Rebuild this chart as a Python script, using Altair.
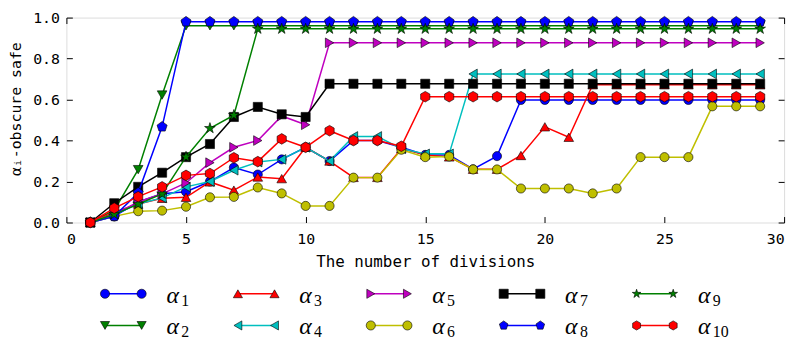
import altair as alt
import pandas as pd

# ---------------- data ----------------
X = list(range(1, 30))

A1 = [0.0, 0.03, 0.10, 0.14, 0.15, 0.20, 0.268, 0.234, 0.308, 0.367, 0.30, 0.40, 0.40, 0.367, 0.33,
      0.33, 0.26, 0.324, 0.598, 0.598, 0.598, 0.598, 0.598, 0.598, 0.598, 0.598, 0.598, 0.598, 0.598]
A2 = [0.0, 0.06, 0.258, 0.622, 0.96, 0.96, 0.96, 0.96, 0.96, 0.96, 0.96, 0.96, 0.96, 0.96, 0.96,
      0.96, 0.96, 0.96, 0.96, 0.96, 0.96, 0.96, 0.96, 0.96, 0.96, 0.96, 0.96, 0.96, 0.96]
A3 = [0.0, 0.05, 0.09, 0.118, 0.123, 0.198, 0.158, 0.222, 0.214, 0.367, 0.30, 0.22, 0.22, 0.36, 0.33,
      0.32, 0.26, 0.26, 0.327, 0.467, 0.416, 0.672, 0.672, 0.672, 0.672, 0.672, 0.672, 0.672, 0.672]
A4 = [0.0, 0.04, 0.09, 0.12, 0.174, 0.20, 0.255, 0.295, 0.308, 0.367, 0.30, 0.42, 0.42, 0.36, 0.335,
      0.335, 0.725, 0.725, 0.725, 0.725, 0.725, 0.725, 0.725, 0.725, 0.725, 0.725, 0.725, 0.725, 0.725]
A5 = [0.0, 0.04, 0.10, 0.14, 0.193, 0.292, 0.367, 0.40, 0.52, 0.477, 0.877, 0.877, 0.877, 0.877, 0.877,
      0.877, 0.877, 0.877, 0.877, 0.877, 0.877, 0.877, 0.877, 0.877, 0.877, 0.877, 0.877, 0.877, 0.877]
A6 = [0.0, 0.03, 0.055, 0.058, 0.077, 0.123, 0.125, 0.171, 0.142, 0.081, 0.081, 0.219, 0.219, 0.355, 0.319,
      0.322, 0.259, 0.259, 0.166, 0.166, 0.166, 0.142, 0.166, 0.319, 0.319, 0.319, 0.567, 0.567, 0.567]
A7 = [0.0, 0.094, 0.174, 0.243, 0.319, 0.383, 0.515, 0.564, 0.528, 0.515, 0.677, 0.677, 0.677, 0.677, 0.677,
      0.677, 0.677, 0.677, 0.677, 0.677, 0.677, 0.677, 0.677, 0.677, 0.677, 0.677, 0.677, 0.677, 0.677]
A8 = [0.0, 0.03, 0.145, 0.467, 0.98, 0.98, 0.98, 0.98, 0.98, 0.98, 0.98, 0.98, 0.98, 0.98, 0.98,
      0.98, 0.98, 0.98, 0.98, 0.98, 0.98, 0.98, 0.98, 0.98, 0.98, 0.98, 0.98, 0.98, 0.98]
A9 = [0.0, 0.04, 0.09, 0.14, 0.32, 0.46, 0.524, 0.945, 0.945, 0.945, 0.945, 0.945, 0.945, 0.945, 0.945,
      0.945, 0.945, 0.945, 0.945, 0.945, 0.945, 0.945, 0.945, 0.945, 0.945, 0.945, 0.945, 0.945, 0.945]
A10 = [0.0, 0.07, 0.126, 0.174, 0.23, 0.239, 0.316, 0.297, 0.408, 0.367, 0.448, 0.40, 0.40, 0.372, 0.614,
       0.614, 0.614, 0.614, 0.614, 0.614, 0.614, 0.614, 0.614, 0.614, 0.614, 0.614, 0.614, 0.614, 0.614]

SERIES = [A1, A2, A3, A4, A5, A6, A7, A8, A9, A10]
NAMES = ["a1", "a2", "a3", "a4", "a5", "a6", "a7", "a8", "a9", "a10"]
SUBS = ["1", "2", "3", "4", "5", "6", "7", "8", "9", "10"]

X_TICKS = [0, 5, 10, 15, 20, 25, 30]
Y_TICKS = [0.0, 0.2, 0.4, 0.6, 0.8, 1.0]

# legend grid (column-major like the reference)
LEG_COL = [0, 0, 1, 1, 2, 2, 3, 3, 4, 4]
LEG_ROW = [0, 1, 0, 1, 0, 1, 0, 1, 0, 1]

# ---------------- styles ----------------
COLORS = ["#0000ff", "#008000", "#ff0000", "#00bfbf", "#bf00bf",
          "#bfbf00", "#000000", "#0000ff", "#008000", "#ff0000"]
PENTAGON = "M0,-1L0.951,-0.309L0.588,0.809L-0.588,0.809L-0.951,-0.309Z"
HEXAGON = "M0,-1L0.866,-0.5L0.866,0.5L0,1L-0.866,0.5L-0.866,-0.5Z"
STAR = ("M0,-1L0.2245,-0.309L0.951,-0.309L0.3633,0.118L0.588,0.809L0,0.382"
        "L-0.588,0.809L-0.3633,0.118L-0.951,-0.309L-0.2245,-0.309Z")
SHAPES = ["circle", "triangle-down", "triangle-up", "triangle-left", "triangle-right",
          "circle", "square", PENTAGON, STAR, HEXAGON]
SIZES = [85, 95, 95, 95, 95, 85, 85, 115, 130, 115]

FONT = "DejaVu Sans Mono"
MATH = "Liberation Serif"

# ---------------- tables ----------------
rows = []
for name, ys in zip(NAMES, SERIES):
    for x, y in zip(X, ys):
        rows.append({"s": name, "x": x, "y": y})
df = pd.DataFrame(rows)

leg_rows = []
for i, name in enumerate(NAMES):
    for off in (0.0, 0.2756):
        leg_rows.append({"s": name, "u": LEG_COL[i] + off, "v": -LEG_ROW[i]})
leg_df = pd.DataFrame(leg_rows)
lab_df = pd.DataFrame({"s": NAMES, "sub": SUBS,
                       "u": [c + 0.4618 for c in LEG_COL],
                       "v": [-r for r in LEG_ROW]})

# ---------------- main plot ----------------
xs = alt.Scale(domain=[0, 30], nice=False, zero=False)
ysc = alt.Scale(domain=[0, 1], nice=False, zero=False)

x_axis = alt.Axis(values=X_TICKS, format="d", offset=-6, tickSize=6, tickColor="black",
                  domain=False, grid=False, labelFont=FONT, labelFontSize=15, labelColor="black",
                  labelPadding=9, title="The number of divisions", titleFont=FONT,
                  titleFontSize=16, titleFontWeight="normal", titleColor="black", titlePadding=7)
y_axis = alt.Axis(values=Y_TICKS, format=".1f", offset=-6, tickSize=6, tickColor="black",
                  domain=False, grid=False, labelFont=FONT, labelFontSize=15, labelColor="black",
                  labelPadding=7, title="αᵢ-obscure safe", titleFont=FONT,
                  titleFontSize=15, titleFontWeight="normal", titleColor="black", titlePadding=9,
                  titleY=92)

layers = []
for i, name in enumerate(NAMES):
    base = alt.Chart(df).transform_filter(alt.datum.s == name)
    enc = dict(x=alt.X("x:Q", scale=xs, axis=x_axis), y=alt.Y("y:Q", scale=ysc, axis=y_axis))
    layers.append(base.mark_line(color=COLORS[i], strokeWidth=1.5).encode(**enc))
    layers.append(base.mark_point(shape=SHAPES[i], filled=True, fill=COLORS[i], stroke="black",
                                  strokeWidth=0.6, size=SIZES[i], opacity=1).encode(**enc))
series_group = alt.layer(*layers)

frame = alt.Chart(df).mark_point(opacity=0).encode(
    x=alt.X("x:Q", scale=xs, axis=alt.Axis(orient="top", values=X_TICKS, labels=False, title=None,
                                           offset=-6, tickSize=6, tickColor="black",
                                           domain=False, grid=False)),
    y=alt.Y("y:Q", scale=ysc, axis=alt.Axis(orient="right", values=Y_TICKS, labels=False, title=None,
                                            offset=-6, tickSize=6, tickColor="black",
                                            domain=False, grid=False)),
)
main = alt.layer(series_group, frame).resolve_axis(x="independent", y="independent")

# ---------------- legend (drawn below the plot) ----------------
lx = alt.Scale(domain=[-0.2905, 5.110], nice=False, zero=False)
ly = alt.Scale(domain=[2.25, 8.719], nice=False, zero=False)
cscale = alt.Scale(domain=NAMES, range=COLORS)
sscale = alt.Scale(domain=NAMES, range=SHAPES)
lenc = dict(x=alt.X("u:Q", scale=lx, axis=None), y=alt.Y("v:Q", scale=ly, axis=None))

leg_lines = alt.Chart(leg_df).mark_line(strokeWidth=1.5).encode(
    color=alt.Color("s:N", scale=cscale, legend=None), detail="s:N", **lenc)
leg_pts = alt.Chart(leg_df).mark_point(filled=True, stroke="black", strokeWidth=0.6, size=85,
                                       opacity=1).encode(
    fill=alt.Fill("s:N", scale=cscale, legend=None),
    shape=alt.Shape("s:N", scale=sscale, legend=None), **lenc)
leg_alpha = alt.Chart(lab_df).mark_text(text="α", font=MATH, fontStyle="italic", fontSize=24,
                                        align="left", baseline="middle", dy=2,
                                        color="black").encode(**lenc)
leg_sub = alt.Chart(lab_df).mark_text(font=MATH, fontSize=16, align="left", baseline="middle",
                                      dx=15, dy=7, color="black").encode(text="sub:N", **lenc)
legend = alt.layer(leg_lines, leg_pts, leg_alpha, leg_sub)

chart = alt.layer(main, legend).resolve_scale(
    x="independent", y="independent", color="independent", fill="independent", shape="independent"
).properties(
    width=725, height=207,
    padding={"left": 59, "top": 8, "right": 9, "bottom": 117},
    autosize=alt.AutoSizeParams(type="none"),
).configure_view(stroke="black", strokeWidth=1).configure(background="white")

chart.save("out.html", embed_options={"renderer": "svg", "actions": False})
